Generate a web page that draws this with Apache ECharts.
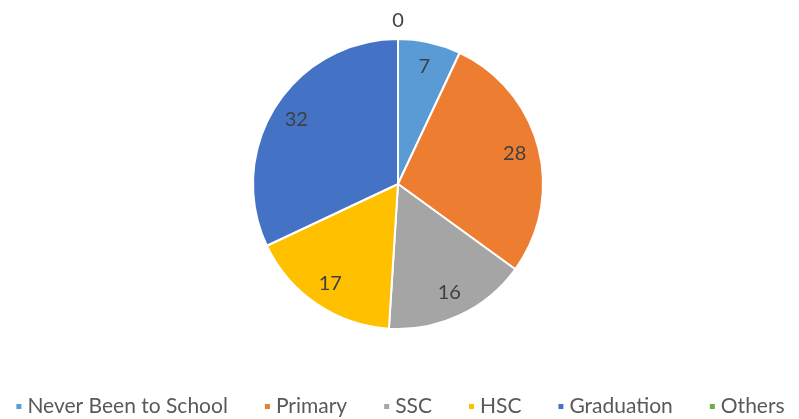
<!DOCTYPE html>
<html>
<head>
<meta charset="utf-8">
<script src="https://cdn.jsdelivr.net/npm/echarts@6/dist/echarts.min.js"></script>
<style>
  html, body { margin: 0; padding: 0; background: #fff; }
  #chart { width: 799px; height: 419px; }
</style>
</head>
<body>
<div id="chart"></div>
<script>
const categories = ["Never Been to School", "Primary", "SSC", "HSC", "Graduation", "Others"];
const values = [7, 28, 16, 17, 32, 0];
const colors = ["#5B9BD5", "#ED7D31", "#A5A5A5", "#FFC000", "#4472C4", "#70AD47"];

const font = "Lato, 'Open Sans', sans-serif";
const chart = echarts.init(document.getElementById("chart"));

const pieData = categories.map((name, i) => ({
  name,
  value: values[i],
  itemStyle: { color: colors[i] }
}));

// label-only ring so the numbers sit near the outer part of each slice
const labelData = categories.map((name, i) => ({
  name,
  value: values[i],
  label: values[i] === 0
    ? { position: "outside", distanceToLabelLine: 0 }
    : { position: "inside" },
  labelLine: { show: false, length: 18, length2: 0 }
}));

chart.setOption({
  animation: false,
  legend: {
    data: categories,
    bottom: -3,
    left: "center",
    icon: "rect",
    itemWidth: 7,
    itemHeight: 7,
    itemGap: 35,
    textStyle: { fontFamily: font, fontSize: 21, color: "#595959" }
  },
  series: [
    {
      type: "pie",
      center: [398, 184],
      radius: [0, 145],
      startAngle: 90,
      clockwise: true,
      data: pieData,
      label: { show: false },
      labelLine: { show: false },
      itemStyle: { borderColor: "#fff", borderWidth: 2 },
      emphasis: { scale: false }
    },
    {
      type: "pie",
      silent: true,
      center: [398, 184],
      radius: [90, 145],
      startAngle: 90,
      clockwise: true,
      data: labelData,
      itemStyle: { color: "transparent", borderWidth: 0 },
      label: {
        show: true,
        formatter: "{c}",
        fontFamily: font,
        fontSize: 20,
        color: "#404040"
      },
      labelLayout: (p) => (values[p.dataIndex] === 0 ? { align: "center" } : {})
    }
  ]
});
</script>
</body>
</html>
